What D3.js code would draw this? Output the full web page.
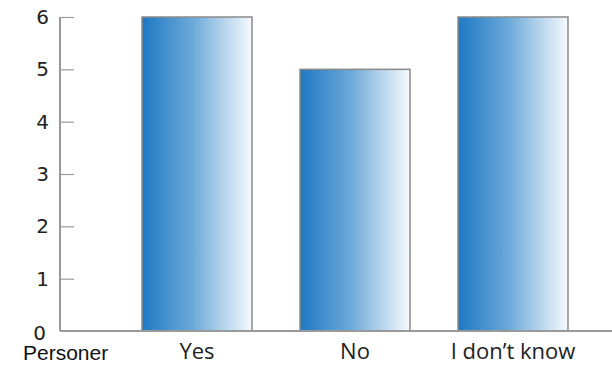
<!DOCTYPE html>
<html><head><meta charset="utf-8">
<script src="https://cdn.jsdelivr.net/npm/d3@7"></script>
<style>body{margin:0;background:#fff}svg{display:block}</style>
</head><body>
<svg id="c" width="612" height="366"></svg>
<script>
const categories = ["Yes", "No", "I don\u2019t know"];
const values = [6, 5, 6];
const yTicks = [0, 1, 2, 3, 4, 5, 6];
const yAxisTitle = "Personer";

const svg = d3.select("#c");
const x = d3.scaleBand().domain(categories).range([118, 592]).paddingInner(0.304).paddingOuter(0.152);
const y = d3.scaleLinear().domain([0, 6]).range([331, 17]);

const defs = svg.append("defs");
const g = defs.append("linearGradient").attr("id", "bg").attr("x1", "0").attr("x2", "1").attr("y1", "0").attr("y2", "0");
g.append("stop").attr("offset", "0").attr("stop-color", "#1f78c4");
g.append("stop").attr("offset", "0.45").attr("stop-color", "#6aa8d8");
g.append("stop").attr("offset", "1").attr("stop-color", "#f6fafd");

svg.selectAll("rect.bar").data(values).join("rect").attr("class", "bar")
  .attr("x", (d, i) => x(categories[i]))
  .attr("y", d => y(d))
  .attr("width", x.bandwidth())
  .attr("height", d => y(0) - y(d))
  .attr("fill", "url(#bg)")
  .attr("stroke", "#8a8a8a").attr("stroke-width", 1.5);

// y axis
const ya = svg.append("g").attr("transform", "translate(60,0)")
  .call(d3.axisRight(y).tickValues(yTicks.filter(t => t > 0)).tickSize(14).tickFormat(""));
ya.select(".domain").remove();
ya.selectAll(".tick line").attr("stroke", "#999").attr("stroke-width", 1.2);
svg.append("line").attr("x1", 60).attr("x2", 60).attr("y1", y(6)).attr("y2", y(0))
  .attr("stroke", "#999").attr("stroke-width", 2);
svg.append("line").attr("x1", 60).attr("x2", 612).attr("y1", y(0)).attr("y2", y(0))
  .attr("stroke", "#999").attr("stroke-width", 2);

svg.selectAll("text.yl").data(yTicks).join("text").attr("class", "yl")
  .attr("x", d => d === 0 ? 46 : 49).attr("y", d => y(d) + (d === 0 ? 9 : 7))
  .attr("text-anchor", "end")
  .attr("font-family", "DejaVu Sans").attr("font-size", 20).attr("fill", "#222")
  .text(d => d);

svg.selectAll("text.xl").data(categories).join("text").attr("class", "xl")
  .attr("x", d => x(d) + x.bandwidth() / 2).attr("y", 359)
  .attr("text-anchor", "middle")
  .attr("font-family", "Open Sans").attr("font-size", 22).attr("fill", "#222")
  .text(d => d);

svg.append("text").attr("x", 23).attr("y", 360)
  .attr("font-family", "Liberation Sans").attr("font-size", 21).attr("fill", "#111")
  .text(yAxisTitle);
</script>
</body></html>
